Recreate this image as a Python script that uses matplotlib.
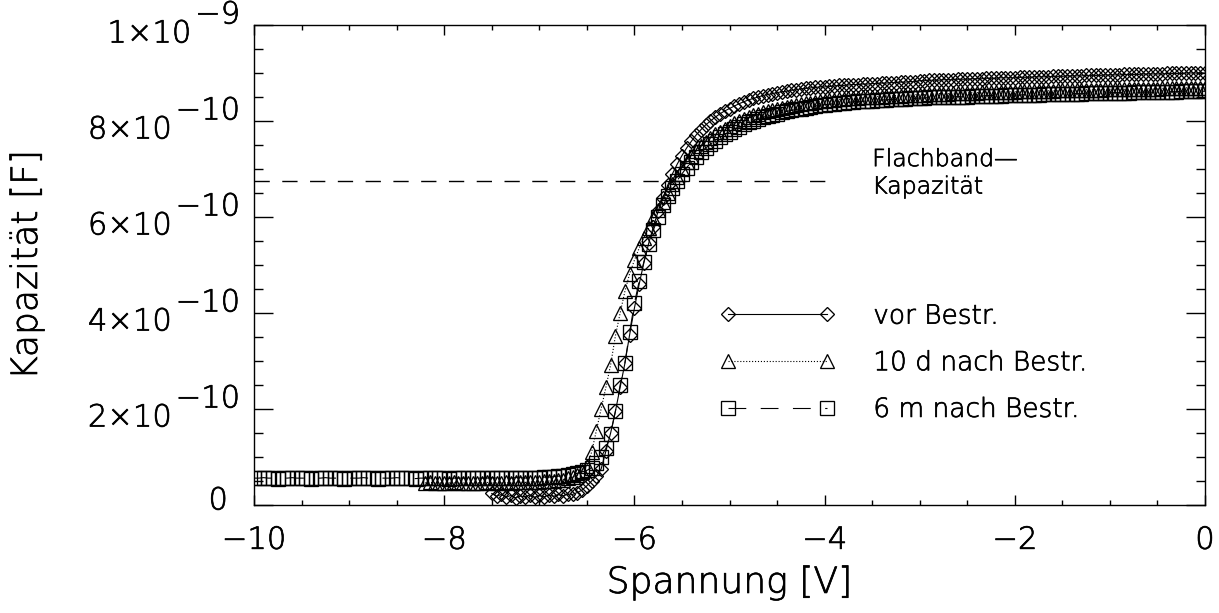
import numpy as np
import matplotlib.pyplot as plt
import matplotlib.patheffects as pe
from matplotlib.text import Text
from matplotlib.ticker import MultipleLocator

plt.rcParams['font.family'] = ['DejaVu Sans']
plt.rcParams['font.weight'] = 'light'
plt.rcParams['axes.labelweight'] = 'light'

# C-V sweeps, capacitance in pF, voltage step 0.05 V
v_step = 0.05

# vor Bestr., -7.50 V .. 0 V
v_vor_start = -7.5
c_vor = [
    24, 18, 22, 16, 20, 15, 19, 17, 21, 16,
    20, 17, 21, 18, 22, 19, 23, 22, 26, 31,
    40, 50, 60, 75, 112, 150, 195, 245, 295, 355,
    410, 460, 505, 545, 580, 612, 640, 666, 690, 710,
    728, 744, 758, 771, 782, 792, 800, 808, 815, 821,
    826, 831, 836, 840, 844, 847, 850, 853, 855, 857,
    859, 861, 862, 864, 865, 867, 868, 869, 870, 871,
    871, 872, 873, 874, 874, 875, 876, 876, 877, 877,
    878, 878, 879, 879, 880, 880, 881, 881, 882, 882,
    884, 884, 885, 885, 885, 886, 886, 886, 887, 887,
    887, 888, 888, 888, 889, 889, 889, 890, 890, 890,
    890, 891, 891, 891, 892, 892, 892, 892, 893, 893,
    893, 894, 894, 894, 894, 895, 895, 895, 895, 896,
    896, 896, 896, 897, 897, 897, 897, 898, 898, 898,
    898, 898, 899, 899, 899, 899, 900, 900, 900, 900,
    900,
]

# 10 d nach Bestr., -8.20 V .. 0 V
v_10d_start = -8.2
c_10d = [
    46, 47, 46, 46, 45, 46, 47, 46, 46, 46, 45, 46,
    46, 47, 46, 46, 46, 47, 46, 47, 47, 47, 48, 48,
    48, 49, 50, 51, 52, 53, 56, 58, 62, 70,
    82, 110, 155, 200, 245, 292, 352, 400, 445, 482,
    510, 535, 557, 577, 597, 615, 632, 650, 668, 684,
    700, 714, 727, 738, 748, 757, 765, 772, 778, 784,
    790, 795, 800, 804, 808, 812, 815, 818, 820, 822,
    825, 827, 830, 832, 834, 836, 837, 838, 840, 841,
    842, 843, 844, 845, 846, 847, 847, 848, 849, 849,
    850, 851, 851, 852, 852, 853, 853, 854, 854, 855,
    855, 855, 856, 856, 857, 857, 857, 858, 858, 858,
    859, 859, 859, 860, 860, 860, 860, 861, 861, 861,
    861, 862, 862, 862, 862, 863, 863, 863, 863, 864,
    864, 864, 864, 864, 865, 865, 865, 865, 865, 866,
    866, 866, 866, 866, 866, 867, 867, 867, 867, 867,
    867, 868, 868, 868, 868, 868, 869, 869, 869, 869,
    869,
]

# 6 m nach Bestr., -10.00 V .. 0 V
v_6m_start = -10.0
c_6m = [
    56, 56, 57, 56, 56, 55, 56, 56, 57, 56,
    56, 56, 55, 56, 56, 57, 56, 56, 56, 55,
    56, 56, 56, 57, 56, 56, 55, 56, 56, 56,
    57, 56, 56, 56, 55, 56, 56, 56, 57, 56,
    56, 55, 56, 56, 56, 57, 56, 56, 56, 56,
    57, 56, 56, 57, 56, 57, 57, 56, 57, 57,
    57, 58, 58, 59, 60, 61, 62, 64, 66, 69,
    72, 78, 88, 100, 118, 148, 195, 250, 296, 360,
    420, 466, 507, 543, 573, 600, 624, 643, 660, 676,
    690, 703, 715, 725, 735, 744, 752, 759, 766, 772,
    778, 783, 788, 793, 797, 801, 805, 808, 810, 813,
    815, 818, 820, 822, 824, 826, 828, 829, 831, 833,
    834, 835, 836, 837, 838, 839, 840, 841, 841, 842,
    842, 843, 844, 844, 845, 845, 846, 846, 847, 847,
    848, 848, 849, 849, 849, 850, 850, 850, 851, 851,
    851, 852, 852, 852, 853, 853, 853, 853, 854, 854,
    854, 854, 855, 855, 855, 855, 856, 856, 856, 856,
    857, 857, 857, 857, 857, 858, 858, 858, 858, 858,
    859, 859, 859, 859, 859, 860, 860, 860, 860, 860,
    861, 861, 861, 861, 861, 862, 862, 862, 862, 862,
    862,
]

flatband_c = 675  # pF
flatband_v = [-10, -4]

labels = ['vor Bestr.', '10 d nach Bestr.', '6 m nach Bestr.']
x_ticks = [-10, -8, -6, -4, -2, 0]
y_ticks = [0, 2e-10, 4e-10, 6e-10, 8e-10, 1e-9]
y_tick_text = [('0', ''), ('2×10', '−10'), ('4×10', '−10'),
               ('6×10', '−10'), ('8×10', '−10'), ('1×10', '−9')]


def sweep(start, values):
    v = start + v_step * np.arange(len(values))
    return v, np.array(values) * 1e-12


fig = plt.figure(figsize=(12.19, 6.13), dpi=100)
ax = fig.add_axes([254 / 1219, 1 - 505 / 613, 951 / 1219, 480 / 613])

style = dict(color='black', mfc='none', mec='black', mew=0.95, lw=0.8)
v, c = sweep(v_vor_start, c_vor)
ax.plot(v, c, ls='-', marker='D', ms=7.6, label=labels[0], **style)
v, c = sweep(v_10d_start, c_10d)
ax.plot(v, c, ls=':', marker='^', ms=10, label=labels[1], **style)
v, c = sweep(v_6m_start, c_6m)
ax.plot(v, c, ls='--', marker='s', ms=9.4, label=labels[2],
        dashes=(16, 13), **style)

ax.plot(flatband_v, [flatband_c * 1e-12] * 2, color='black', lw=1.0,
        dashes=(11, 9))
ax.text(-3.5, 6.92e-10, 'Flachband—\nKapazität', fontsize=17,
        ha='left', va='center', linespacing=1.18)

ax.set_xlim(-10, 0)
ax.set_ylim(0, 1e-9)
ax.set_xticks(x_ticks)
ax.set_xticklabels(['−10', '−8', '−6', '−4', '−2', '0'])
ax.xaxis.set_minor_locator(MultipleLocator(0.5))
ax.set_yticks(y_ticks)
ax.yaxis.set_minor_locator(MultipleLocator(5e-11))
ax.tick_params(which='both', direction='in', top=True, right=True,
               width=1.0, labelsize=22, labelleft=False)
ax.tick_params(axis='x', which='major', length=7.2, pad=15)
ax.tick_params(axis='x', which='minor', length=3.6)
ax.tick_params(axis='y', which='major', length=13.7)
ax.tick_params(axis='y', which='minor', length=6.8)
for s in ax.spines.values():
    s.set_linewidth(1.0)

# y labels with full-size exponents
for val, (base, expo) in zip(y_ticks, y_tick_text):
    if not expo:
        ax.annotate(base, xy=(0, val), xycoords=('axes fraction', 'data'),
                    xytext=(-26, 4), textcoords='offset pixels',
                    ha='right', va='center', fontsize=22)
        continue
    e = ax.annotate(expo, xy=(0, val), xycoords=('axes fraction', 'data'),
                    xytext=(-14, 10), textcoords='offset pixels',
                    ha='right', va='center', fontsize=22, annotation_clip=False)
    ax.annotate(base, xy=(0, 0.5), xycoords=e, xytext=(-4, -19),
                textcoords='offset pixels', ha='right', va='center',
                fontsize=22)

ax.set_xlabel('Spannung [V]', fontsize=26, labelpad=8)
fig.text(27 / 1219, 1 - 265 / 613, 'Kapazität [F]', fontsize=26,
         rotation=90, ha='center', va='center')

ax.legend(loc='upper left', bbox_to_anchor=(0.4905, 0.4195), frameon=False,
          numpoints=2, fontsize=19, handlelength=4.35, handletextpad=1.44,
          labelspacing=0.82, borderpad=0, borderaxespad=0)

# slightly heavier strokes for the light face
for t in fig.findobj(Text):
    t.set_path_effects([pe.withStroke(linewidth=0.5, foreground='black')])

fig.savefig('out.png', dpi=100)
